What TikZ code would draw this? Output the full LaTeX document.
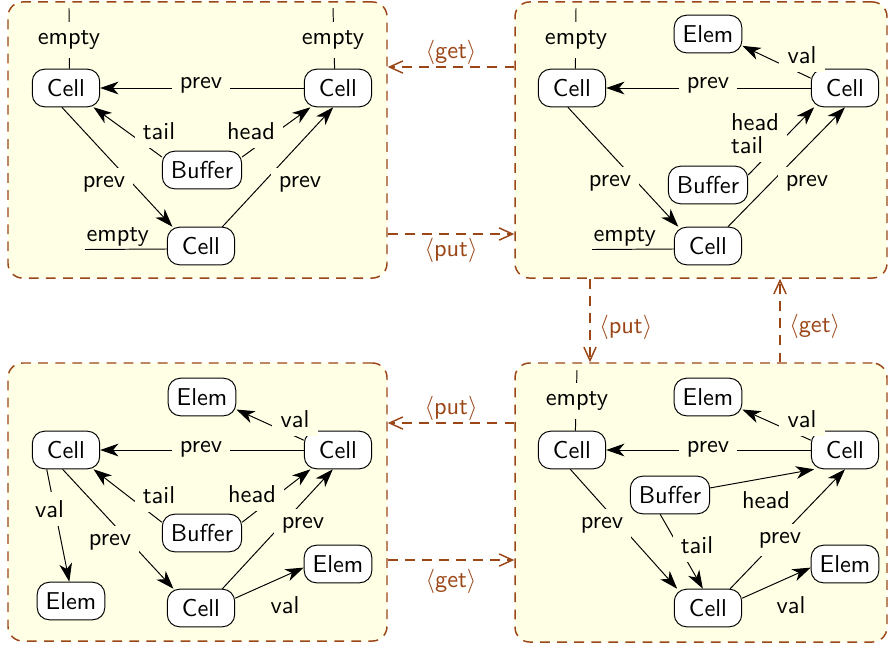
\documentclass[tikz,border=0pt]{standalone}
\usepackage{amsmath}
\usetikzlibrary{arrows.meta}

\definecolor{flow}{RGB}{155,70,22}
\definecolor{paper}{RGB}{255,255,229}

\tikzset{
  cellbox/.style={draw, fill=white, rounded corners=5pt, font=\sffamily,
    minimum width=27.6pt, minimum height=15.4pt, inner xsep=3.5pt},
  panel/.style={draw=flow, dash pattern=on 4pt off 3pt, line width=0.6pt,
    fill=paper, rounded corners=6pt, inner sep=0pt},
  ptr/.style={-{Stealth[length=7.5pt, width=5.2pt, inset=2.2pt]}},
  lbl/.style={fill=paper, font=\sffamily},
  side/.style={font=\sffamily},
  move/.style={draw=flow, dash pattern=on 4pt off 3pt, line width=0.6pt,
    -{Straight Barb[length=5.5pt, width=5pt]}},
  movelbl/.style={text=flow, font=\sffamily, inner sep=0.5pt},
}
\newcommand{\actlbl}[1]{$\langle$#1$\rangle$}

\begin{document}
\begin{tikzpicture}[x=4.1pt, y=-4.1pt]
\useasboundingbox (0,0) rectangle (88.9,64.9);

% the four states
\node[panel, minimum width=155.4pt, minimum height=113.2pt] (p1) at (19.75,14.0) {};
\node[panel, minimum width=152.5pt, minimum height=113.2pt] (p2) at (70.1,14.0) {};
\node[panel, minimum width=155.4pt, minimum height=114.0pt] (p3) at (19.75,50.2) {};
\node[panel, minimum width=152.5pt, minimum height=114.4pt] (p4) at (70.1,50.25) {};

% state 1: empty buffer
\node[cellbox] (c1l) at (6.6,8.8) {Cell};
\node[cellbox] (c1r) at (33.8,8.8) {Cell};
\node[cellbox] (b1) at (20.2,17.0) {Buffer};
\node[cellbox] (c1b) at (20.1,24.6) {Cell};
\coordinate (e1l) at (6.9,0.8);
\coordinate (e1r) at (33.3,0.8);
\coordinate (e1b) at (8.5,24.95);
\draw (e1l) -- (c1l.80) node[lbl] at (6.9,4.0) {empty};
\draw (e1r) -- (c1r.100) node[lbl] at (33.3,4.0) {empty};
\draw (e1b) -- node[side, pos=0.4, above, inner sep=1pt] {empty} (c1b.185);
\draw[ptr] (c1r) -- (c1l) node[lbl] at (20.1,8.5) {prev};
\draw[ptr] (b1.162) -- (c1l.-35) node[lbl] at (15.9,13.15) {tail};
\draw[ptr] (b1.18) -- (c1r.-145) node[lbl] at (25.1,13.15) {head};
\draw[ptr] (c1l.-102) -- (c1b.146) node[lbl] at (10.4,18.4) {prev};
\draw[ptr] (c1b.42) -- (c1r.-104) node[lbl] at (30.0,18.4) {prev};

% state 2: one element
\node[cellbox] (c2l) at (57.2,8.8) {Cell};
\node[cellbox] (c2r) at (84.5,8.8) {Cell};
\node[cellbox] (e2) at (70.8,3.4) {Elem};
\node[cellbox] (b2) at (70.8,18.5) {Buffer};
\node[cellbox] (c2b) at (70.8,24.6) {Cell};
\coordinate (e2l) at (57.6,0.8);
\coordinate (e2b) at (59.2,24.95);
\draw (e2l) -- (c2l.80) node[lbl] at (57.6,4.0) {empty};
\draw (e2b) -- node[side, pos=0.4, above, inner sep=1pt] {empty} (c2b.185);
\draw[ptr] (c2r.164) -- (e2.-19) node[lbl] at (80.2,5.5) {val};
\draw[ptr] (c2r) -- (c2l) node[lbl] at (70.8,8.5) {prev};
\draw[ptr] (b2.14) -- (c2r.-148) node[lbl, align=left] at (75.5,13.4) {head\\[-2.6pt]tail};
\draw[ptr] (c2l.-102) -- (c2b.147) node[lbl] at (61.0,18.3) {prev};
\draw[ptr] (c2b.44) -- (c2r.-90) node[lbl] at (80.7,18.3) {prev};

% state 3: full buffer
\node[cellbox] (e3t) at (20.2,39.7) {Elem};
\node[cellbox] (c3l) at (6.6,45.0) {Cell};
\node[cellbox] (c3r) at (33.8,45.0) {Cell};
\node[cellbox] (b3) at (20.2,53.3) {Buffer};
\node[cellbox] (e3r) at (33.8,56.4) {Elem};
\node[cellbox] (e3l) at (7.1,60.1) {Elem};
\node[cellbox] (c3b) at (20.1,60.8) {Cell};
\draw[ptr] (c3r.164) -- (e3t.-20) node[lbl] at (29.5,41.9) {val};
\draw[ptr] (c3r) -- (c3l) node[lbl] at (20.1,44.9) {prev};
\draw[ptr] (b3.165) -- (c3l.-35) node[lbl] at (15.9,49.5) {tail};
\draw[ptr] (b3.15) -- (c3r.-145) node[lbl] at (25.2,49.4) {head};
\draw[ptr] (c3l.-135) -- (e3l.95) node[lbl] at (4.95,50.9) {val};
\draw[ptr] (c3l.-100) -- (c3b.145) node[lbl] at (11.0,54.2) {prev};
\draw[ptr] (c3b.42) -- (c3r.-105) node[lbl] at (30.3,52.5) {prev};
\draw[ptr] (c3b.16) -- (e3r.186) node[side] at (28.5,60.5) {val};

% state 4: two elements
\node[cellbox] (e4t) at (70.8,39.7) {Elem};
\node[cellbox] (c4l) at (57.2,45.0) {Cell};
\node[cellbox] (c4r) at (84.5,45.0) {Cell};
\node[cellbox] (b4) at (67.0,49.5) {Buffer};
\node[cellbox] (e4r) at (84.5,56.4) {Elem};
\node[cellbox] (c4b) at (70.8,60.8) {Cell};
\coordinate (e4l) at (57.7,37.0);
\draw (e4l) -- (c4l.80) node[lbl] at (57.7,40.1) {empty};
\draw[ptr] (c4r.164) -- (e4t.-20) node[lbl] at (80.2,41.9) {val};
\draw[ptr] (c4r) -- (c4l) node[lbl] at (70.8,44.9) {prev};
\draw[ptr] (b4.10) -- (c4r.-148) node[side] at (76.6,50.0) {head};
\draw[ptr] (b4.-117) -- (c4b.105) node[lbl] at (69.7,54.5) {tail};
\draw[ptr] (c4l.-95) -- (c4b.148) node[lbl] at (60.2,52.5) {prev};
\draw[ptr] (c4b.41) -- (c4r.-90) node[lbl] at (78.0,54.0) {prev};
\draw[ptr] (c4b.16) -- (e4r.186) node[side] at (79.1,60.5) {val};

% transitions
\draw[move] (p2.west |- 0,6.7) -- node[movelbl, above] {\actlbl{get}} (p1.east |- 0,6.7);
\draw[move] (p1.east |- 0,23.4) -- node[movelbl, below=1pt] {\actlbl{put}} (p2.west |- 0,23.4);
\draw[move] (p2.south -| 59,0) -- node[movelbl, right=3pt, pos=0.58] {\actlbl{put}} (p4.north -| 59,0);
\draw[move] (p4.north -| 78,0) -- node[movelbl, right=3pt, pos=0.43] {\actlbl{get}} (p2.south -| 78,0);
\draw[move] (p4.west |- 0,42.3) -- node[movelbl, above] {\actlbl{put}} (p3.east |- 0,42.3);
\draw[move] (p3.east |- 0,56.0) -- node[movelbl, below=3pt] {\actlbl{get}} (p4.west |- 0,56.0);
\end{tikzpicture}
\end{document}
